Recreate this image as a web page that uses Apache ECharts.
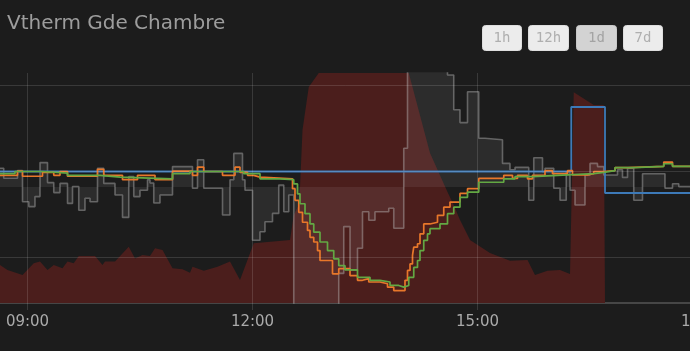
<!DOCTYPE html>
<html>
<head>
<meta charset="utf-8">
<script src="https://cdn.jsdelivr.net/npm/echarts@6/dist/echarts.min.js"></script>
<style>
html,body{margin:0;padding:0;background:#1c1c1c;}
#c{width:690px;height:351px;}
</style>
</head>
<body>
<div id="c"></div>
<script>
// ---------- DATA ----------
const chartTitle = 'Vtherm Gde Chambre';
const rangeButtons = ['1h', '12h', '1d', '7d'];
const selectedRange = '1d';

const timeTicks = ['09:00', '12:00', '15:00', '18:00'];
const tempGridLines = [18, 20, 22];

// setpoint (blue)
const targetTimes = ['08:38', '16:15', '16:42', '18:00'];
const targetValues = [20, 21.5, 19.5, 19.5];

// room temperature (orange)
const tempTimes = ['08:38','08:52','08:56','09:12','09:21','09:26','09:32','09:56','10:01','10:16','10:28','10:42','10:56','11:12','11:16','11:21','11:36','11:46','11:50','11:56','12:01','12:06','12:32','12:34','12:37','12:40','12:44','12:46','12:49','12:52','12:54','13:04','13:09','13:18','13:24','13:28','13:33','13:42','13:48','13:53','14:02','14:04','14:06','14:08','14:09','14:12','14:14','14:17','14:22','14:28','14:33','14:38','14:46','14:52','15:01','15:21','15:28','15:32','15:40','15:44','15:54','16:00','16:12','16:16','16:28','16:33','16:41','16:50','17:00','17:29','17:36','18:00'];
const tempValues = [19.91,20.01,19.89,19.98,19.91,20.0,19.89,20.05,19.91,19.81,19.91,19.81,20.01,19.91,20.1,20.0,19.91,20.1,19.98,19.91,19.87,19.83,19.6,19.33,19.05,18.82,18.63,18.47,18.36,18.16,17.93,17.62,17.74,17.58,17.47,17.51,17.43,17.39,17.31,17.23,17.47,17.7,17.85,18.05,18.24,18.32,18.55,18.78,18.82,18.98,19.17,19.29,19.49,19.6,19.84,19.91,19.84,19.91,19.83,19.91,20.02,19.95,20.02,19.92,19.95,20.0,20.02,20.09,20.12,20.22,20.12,20.12];

// smoothed temperature (green)
const emaTimes = ['08:38','08:50','09:12','09:32','09:58','10:14','10:56','11:10','11:53','12:06','12:22','12:33','12:36','12:38','12:42','12:46','12:49','12:54','13:00','13:05','13:09','13:14','13:24','13:34','13:42','13:50','13:57','14:01','14:05','14:09','14:12','14:14','14:17','14:20','14:22','14:30','14:36','14:41','14:46','14:52','15:01','15:21','15:30','15:44','16:04','16:33','16:41','16:50','17:05','17:29','17:36','18:00'];
const emaValues = [19.95,20.0,19.96,19.91,19.87,19.83,19.95,20.0,19.95,19.83,19.81,19.71,19.48,19.25,19.02,18.78,18.59,18.36,18.16,17.97,17.81,17.71,17.54,17.47,17.43,17.35,17.31,17.35,17.54,17.77,17.93,18.16,18.4,18.55,18.67,18.78,19.02,19.17,19.4,19.52,19.75,19.83,19.88,19.91,19.95,19.98,20.02,20.09,20.12,20.18,20.12,20.12];

// temperature slope (grey)
const slopeTimes = ['08:38','08:41','08:52','08:56','09:01','09:06','09:10','09:16','09:21','09:26','09:32','09:36','09:41','09:46','09:50','09:56','10:01','10:10','10:16','10:21','10:25','10:30','10:36','10:38','10:41','10:46','10:56','11:12','11:16','11:21','11:36','11:42','11:45','11:52','11:54','12:00','12:06','12:10','12:16','12:21','12:25','12:29','12:33','13:09','13:13','13:18','13:24','13:28','13:33','13:38','13:49','13:53','14:01','14:04','14:36','14:41','14:46','14:52','15:01','15:06','15:20','15:26','15:30','15:41','15:45','15:52','15:54','16:01','16:06','16:11','16:14','16:18','16:26','16:30','16:36','16:41','16:52','16:56','17:00','17:05','17:12','17:30','17:36','17:41','18:00'];
const slopeValues = [0.47,0.22,0.41,-0.37,-0.49,-0.24,0.61,0.11,-0.14,0.09,-0.41,0.01,-0.58,-0.28,-0.37,0.47,0.09,-0.2,-0.76,0.26,-0.24,-0.08,0.18,0.1,-0.4,-0.2,0.51,-0.03,0.68,-0.03,-0.7,0.18,0.84,0.18,-0.08,-1.33,-1.12,-0.87,-0.66,0.05,-0.62,-0.2,-3.5,-2.16,-0.99,-2.08,-1.53,-0.62,-0.83,-0.62,-0.53,-1.03,0.97,3.5,2.8,1.93,1.61,2.38,1.22,1.18,0.59,0.43,0.49,-0.33,0.73,0.38,0.47,-0.03,-0.33,0.38,-0.08,-0.45,0.3,0.59,0.51,0.3,0.43,0.24,0.47,-0.33,0.33,-0.03,0.08,0.01,0.01];

// heating power % (dark red)
const powerTimes = ['08:38','08:44','08:56','09:05','09:10','09:16','09:21','09:28','09:32','09:37','09:41','09:54','10:00','10:02','10:10','10:21','10:26','10:32','10:38','10:42','10:48','10:56','11:04','11:10','11:12','11:21','11:32','11:42','11:50','12:01','12:30','12:33','12:37','12:38','12:40','12:45','12:53','14:05','14:22','14:36','14:41','14:46','14:54','15:10','15:26','15:40','15:46','15:56','16:06','16:14','16:17','16:33','16:41','16:42','18:00'];
const powerValues = [16.5,14.3,12.2,17.3,18.0,14.3,16.5,15.1,18.0,17.3,20.4,20.4,16.5,18.0,18.0,24.5,19.4,20.9,20.4,23.8,23.0,15.1,14.7,13.2,15.8,14.0,15.8,18.0,10.0,26.0,27.4,38.3,42.6,50.4,75.2,93.9,100,100,65.2,48.3,42.6,36.1,27.4,21.7,18.4,18.7,12.2,14.0,14.3,12.6,91.6,86.1,86.1,0,0];

// ---------- HELPERS ----------
const toMin = s => { const p = s.split(':').map(Number); return p[0] * 60 + p[1]; };
const pad = n => (n < 10 ? '0' : '') + n;
const fmt = v => pad(Math.floor(v / 60) % 24) + ':' + pad(Math.round(v % 60));
const pairs = (ts, vs) => ts.map((t, i) => [toMin(t), vs[i]]);
const tickMins = timeTicks.map(toMin);

const gridColor = 'rgba(255,255,255,0.13)';

// buttons
const btnBoxes = [[482.5, 39], [528.5, 40], [576.5, 40], [623.5, 39]];
const graphics = [{
  type: 'text', left: 7, top: 14, z: 100,
  style: { text: chartTitle, fill: '#9d9d9d', font: '20px "DejaVu Sans"' }
}];
rangeButtons.forEach((b, i) => {
  const sel = b === selectedRange;
  const [bx, bw] = btnBoxes[i];
  graphics.push({
    type: 'rect', z: 100,
    shape: { x: bx, y: 25.5, width: bw, height: 25, r: 3 },
    style: { fill: sel ? '#d3d3d3' : '#ececec', stroke: sel ? '#c8c8c8' : '#dedede', lineWidth: 1 }
  });
  graphics.push({
    type: 'text', z: 101, x: bx + bw / 2, y: 38,
    style: { text: b, fill: sel ? '#a3a3a3' : '#afafaf', font: '14px "DejaVu Sans Mono"',
             align: 'center', verticalAlign: 'middle', textAlign: 'center', textVerticalAlign: 'middle' }
  });
});

const chart = echarts.init(document.getElementById('c'), null, { renderer: 'canvas' });
chart.setOption({
  backgroundColor: '#1c1c1c',
  animation: false,
  graphic: graphics,
  grid: { left: 0, right: -12.5, top: 73, bottom: 48, containLabel: false, outerBoundsMode: 'none' },
  xAxis: {
    type: 'value', min: 518, max: 1080,
    axisLine: { show: true, lineStyle: { color: '#464646', width: 2 } },
    axisTick: { show: true, customValues: tickMins, length: 7, lineStyle: { color: gridColor, width: 1 } },
    axisLabel: { show: true, customValues: tickMins, formatter: fmt, color: '#aaaaaa', fontSize: 15,
                 fontFamily: 'DejaVu Sans', margin: 12, showMaxLabel: true, showMinLabel: true },
    splitLine: { show: false }
  },
  yAxis: [
    { type: 'value', min: 20 - 131.5 / 43, max: 20 + 98.5 / 43, show: false, splitLine: { show: false } },
    { type: 'value', min: 0, max: 100, show: false, splitLine: { show: false } },
    { type: 'value', min: -2.9, max: 2.85, show: false, splitLine: { show: false } }
  ],
  series: [
    {
      name: 'power', type: 'line', yAxisIndex: 1, data: pairs(powerTimes, powerValues),
      showSymbol: false, silent: true, z: 1,
      lineStyle: { width: 0 }, areaStyle: { color: '#4b1e1c', opacity: 1 }
    },
    {
      name: 'slope', type: 'line', yAxisIndex: 2, step: 'end', data: pairs(slopeTimes, slopeValues),
      showSymbol: false, silent: true, z: 2,
      lineStyle: { color: 'rgba(190,190,190,0.42)', width: 1.6 },
      areaStyle: { color: 'rgba(255,255,255,0.1)' }
    },
    {
      name: 'target', type: 'line', yAxisIndex: 0, step: 'end', data: pairs(targetTimes, targetValues),
      showSymbol: false, silent: true, z: 3,
      lineStyle: { color: '#3d7ab8', width: 1.8 }
    },
    {
      name: 'temperature', type: 'line', yAxisIndex: 0, step: 'end', data: pairs(tempTimes, tempValues),
      showSymbol: false, silent: true, z: 4,
      lineStyle: { color: '#e8772a', width: 1.7 }
    },
    {
      name: 'ema', type: 'line', yAxisIndex: 0, step: 'end', data: pairs(emaTimes, emaValues),
      showSymbol: false, silent: true, z: 5,
      lineStyle: { color: '#63a843', width: 1.7 },
      markLine: {
        silent: true, symbol: ['none', 'none'], animation: false,
        label: { show: false },
        lineStyle: { color: gridColor, width: 1, type: 'solid' },
        emphasis: { disabled: true },
        data: tempGridLines.map(v => ({ yAxis: v })).concat(tickMins.map(v => ({ xAxis: v })))
      }
    }
  ]
});
</script>
</body>
</html>
